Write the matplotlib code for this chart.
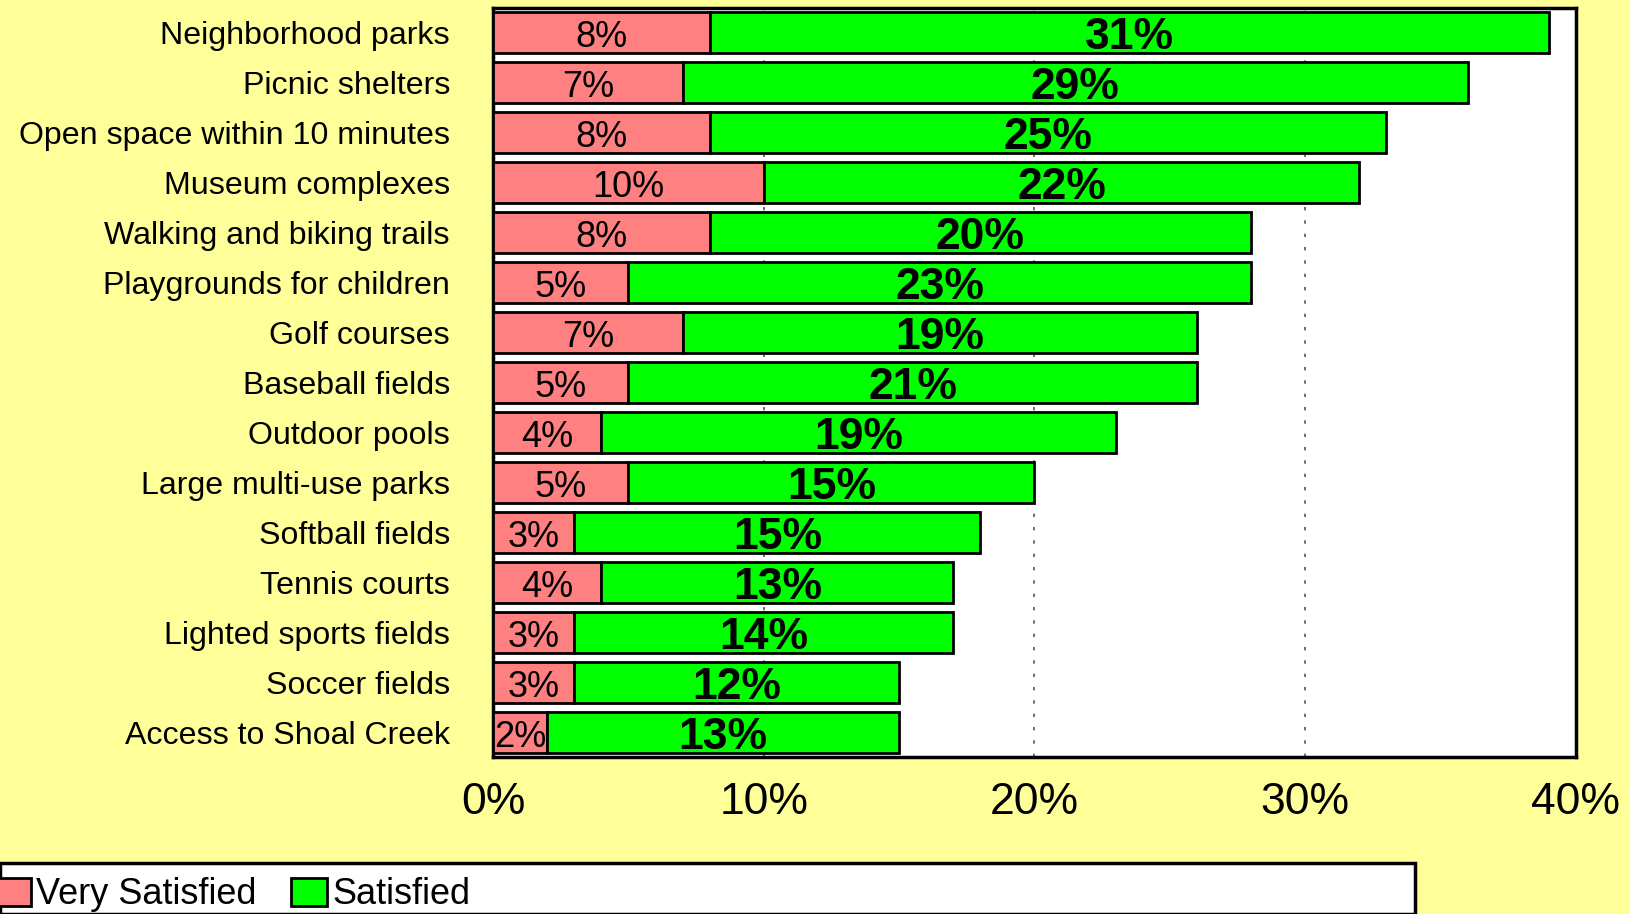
import matplotlib
matplotlib.use("Agg")
import matplotlib.pyplot as plt
from matplotlib.patches import Rectangle, Patch

categories = ["Neighborhood parks", "Picnic shelters", "Open space within 10 minutes",
              "Museum complexes", "Walking and biking trails", "Playgrounds for children",
              "Golf courses", "Baseball fields", "Outdoor pools", "Large multi-use parks",
              "Softball fields", "Tennis courts", "Lighted sports fields", "Soccer fields",
              "Access to Shoal Creek"]
very_satisfied = [8, 7, 8, 10, 8, 5, 7, 5, 4, 5, 3, 4, 3, 3, 2]
satisfied = [31, 29, 25, 22, 20, 23, 19, 21, 19, 15, 15, 13, 14, 12, 13]
xticks = [0, 10, 20, 30, 40]
xtick_labels = ["0%", "10%", "20%", "30%", "40%"]

RED = "#FF8080"
GREEN = "#00FF00"
BG = "#FFFF99"

plt.rcParams['font.family'] = ['Liberation Sans', 'DejaVu Sans']

fig = plt.figure(figsize=(16.31, 9.14), dpi=100)
fig.patch.set_facecolor(BG)
W, H = 1631, 914
ax = fig.add_axes([493 / W, 1 - 757 / H, (1576 - 493) / W, (757 - 8) / H])
ax.set_facecolor("white")

y = list(range(len(categories)))
ax.barh(y, very_satisfied, height=0.82, color=RED, edgecolor="black", linewidth=2, zorder=3)
ax.barh(y, satisfied, left=very_satisfied, height=0.82, color=GREEN, edgecolor="black",
        linewidth=2, zorder=3)

for i in range(len(categories)):
    v, s = very_satisfied[i], satisfied[i]
    ax.text(v / 2, i + 0.1, f"{v}%", ha="center", va="center", fontsize=26, zorder=4)
    ax.text(v + s / 2, i + 0.1, f"{s}%", ha="center", va="center", fontsize=32,
            fontweight="bold", zorder=4)

ax.set_xlim(0, 40)
ax.set_ylim(len(categories) - 0.5, -0.5)
ax.set_xticks(xticks)
ax.set_xticklabels(xtick_labels, fontsize=32)
ax.set_yticks(y)
ax.set_yticklabels(categories, fontsize=23.1)
ax.tick_params(axis="x", length=0, pad=18)
ax.tick_params(axis="y", length=0, pad=31)
for gx in xticks[1:-1]:
    ax.axvline(gx, color="#555555", linestyle=(0, (2, 6)), linewidth=1.2, zorder=1)
for sp in ax.spines.values():
    sp.set_linewidth(2.5)
    sp.set_color("black")

# legend box
fig.patches.append(Rectangle((0, 0), 1415 / W, (914 - 863) / H, transform=fig.transFigure,
                             facecolor="white", edgecolor="black", linewidth=2.5, zorder=0))
handles = [Patch(facecolor=RED, edgecolor="black", linewidth=2, label="Very Satisfied"),
           Patch(facecolor=GREEN, edgecolor="black", linewidth=2, label="Satisfied")]
fig.legend(handles=handles, loc="center left", bbox_to_anchor=(-0.012, 1 - 895 / H),
           ncol=2, frameon=False, fontsize=26, handlelength=1.0, handleheight=0.8,
           handletextpad=0.15, columnspacing=0.95, borderaxespad=0)

fig.savefig("out.png", dpi=100, facecolor=BG)
